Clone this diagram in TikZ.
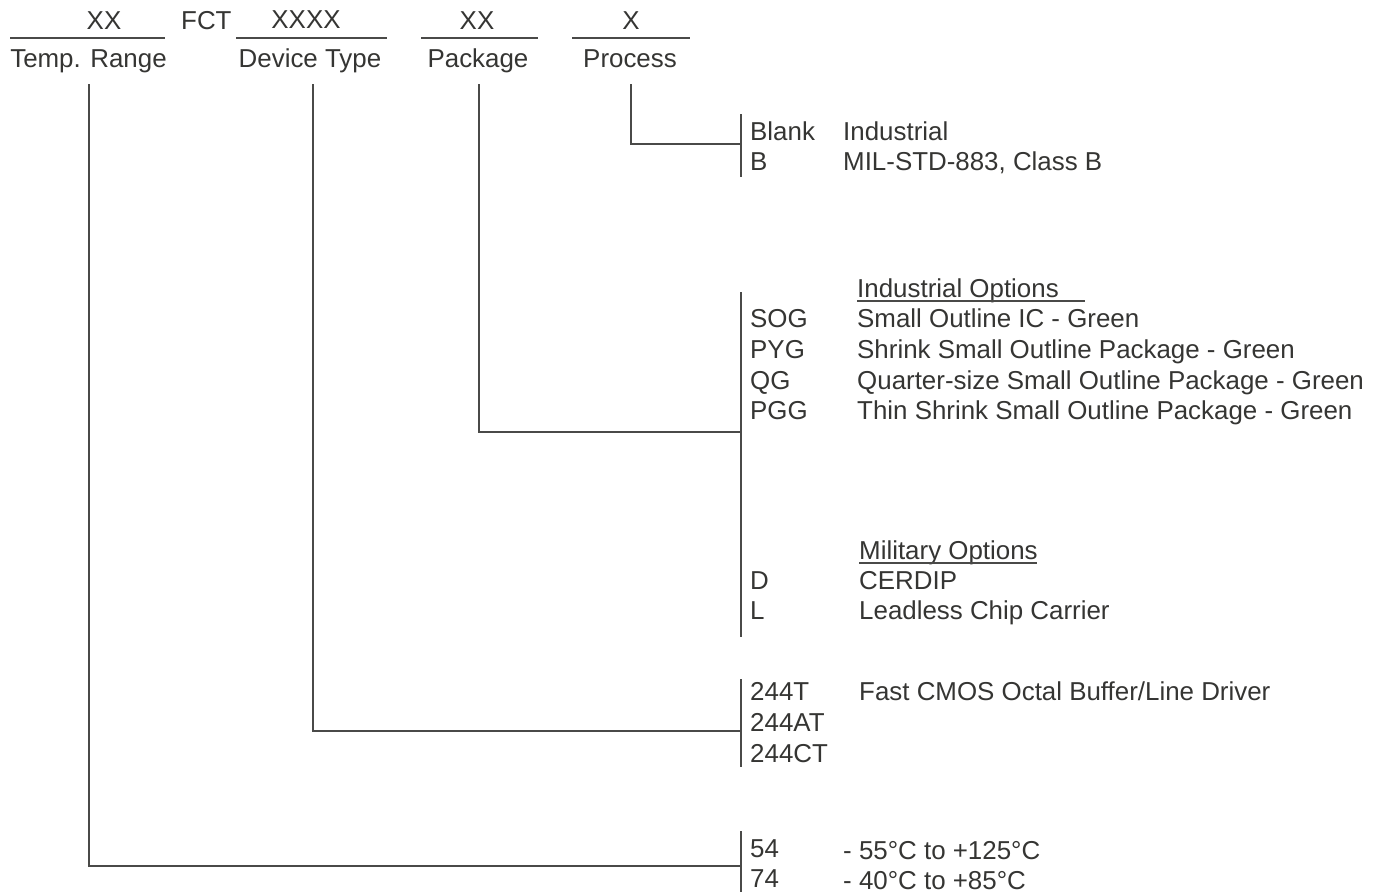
\documentclass[tikz,border=0pt]{standalone}
\usepackage{fontspec}
\setmainfont{Liberation Sans}
\definecolor{ink}{HTML}{353533}
\definecolor{lin}{HTML}{4A4A48}
\begin{document}
\begin{tikzpicture}[x=1pt,y=-1pt,
  txt/.style={inner sep=0pt, anchor=base west, text=ink, font=\fontsize{25.9}{31}\selectfont},
  hd/.style={txt, anchor=base},
  ln/.style={draw=lin, line width=1.3pt}]
\useasboundingbox (0,0) rectangle (1377,892);
% header
\node[hd] (xx1) at (104,29) {XX};
\draw[ln] (10,38) -- (165,38);
\node[hd] (temp) at (88.5,67) {Temp. Range};
\node[txt] (fct) at (181,29) {FCT};
\node[hd] (xxxx) at (306,28) {XXXX};
\draw[ln] (236,38) -- (387,38);
\node[hd] (dev) at (310,67) {Device Type};
\node[hd] (xx2) at (477,29) {XX};
\draw[ln] (421,38) -- (538,38);
\node[hd] (pkg) at (478,67) {Package};
\node[hd] (x1) at (631,29) {X};
\draw[ln] (572,38) -- (690,38);
\node[hd] (proc) at (630,67) {Process};
% connector start points
\coordinate (t0) at (89,84);
\coordinate (d0) at (313,84);
\coordinate (p0) at (479,84);
\coordinate (r0) at (631,84);
\coordinate (tb) at (741,866);
\coordinate (db) at (741,731);
\coordinate (pb) at (741,432);
\coordinate (rb) at (741,144);
\draw[ln] (t0) |- (tb);
\draw[ln] (d0) |- (db);
\draw[ln] (p0) |- (pb);
\draw[ln] (r0) |- (rb);
% bracket bars
\draw[ln] (741,114) -- (741,177);
\draw[ln] (741,292) -- (741,637);
\draw[ln] (741,679) -- (741,767);
\draw[ln] (741,831) -- (741,892);
% process
\node[txt] (blank) at (750,140) {Blank};
\node[txt] (ind) at (843,140) {Industrial};
\node[txt] (b) at (750,170) {B};
\node[txt] (mil) at (843,170) {MIL-STD-883, Class B};
% package
\node[txt] (indopt) at (857,297) {Industrial Options};
\draw[ln] (857,301) -- (1085,301);
\node[txt] (sog) at (750,327) {SOG};
\node[txt] (sogd) at (857,327) {Small Outline IC - Green};
\node[txt] (pyg) at (750,358) {PYG};
\node[txt] (pygd) at (857,358) {Shrink Small Outline Package - Green};
\node[txt] (qg) at (750,389) {QG};
\node[txt] (qgd) at (857,389) {Quarter-size Small Outline Package - Green};
\node[txt] (pgg) at (750,419) {PGG};
\node[txt] (pggd) at (857,419) {Thin Shrink Small Outline Package - Green};
\node[txt] (milopt) at (859,559) {Military Options};
\draw[ln] (milopt.base west) ++(0,4) -- ++(178,0);
\node[txt] (d) at (750,589) {D};
\node[txt] (dd) at (859,589) {CERDIP};
\node[txt] (l) at (750,619) {L};
\node[txt] (ld) at (859,619) {Leadless Chip Carrier};
% device
\node[txt] (t244) at (750,700) {244T};
\node[txt] (t244d) at (859,700) {Fast CMOS Octal Buffer/Line Driver};
\node[txt] (at244) at (750,731) {244AT};
\node[txt] (ct244) at (750,762) {244CT};
% temp
\node[txt] (n54) at (750,857) {54};
\node[txt] (n54d) at (843,859) {- 55°C to +125°C};
\node[txt] (n74) at (750,887) {74};
\node[txt] (n74d) at (843,889) {- 40°C to +85°C};
\end{tikzpicture}
\end{document}
